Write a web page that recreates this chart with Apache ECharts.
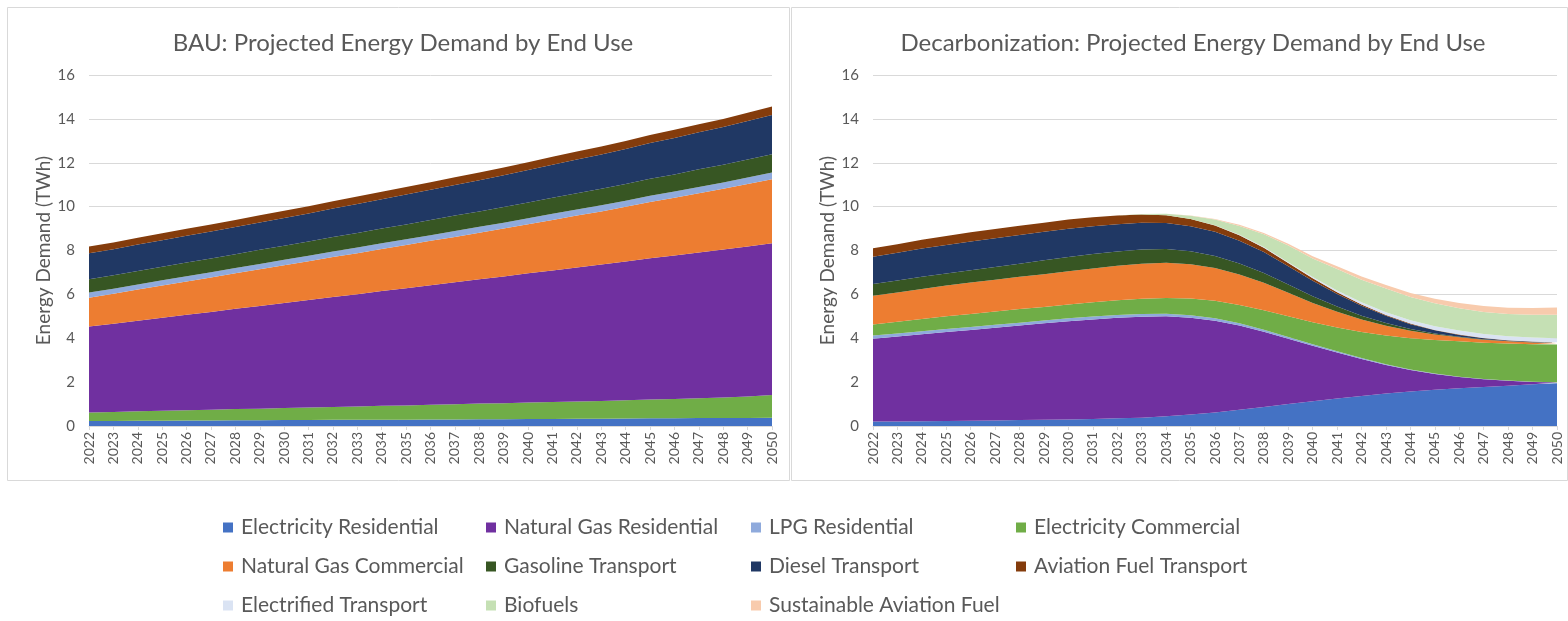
<!DOCTYPE html>
<html>
<head>
<meta charset="utf-8">
<title>Projected Energy Demand by End Use</title>
<script src="https://cdn.jsdelivr.net/npm/echarts@6/dist/echarts.min.js"></script>
<style>
  html, body { margin: 0; padding: 0; background: #ffffff; }
  #chart { width: 1568px; height: 621px; }
</style>
</head>
<body>
<div id="chart"></div>
<script>
// ---- Data (TWh) ----
const years = ['2022','2023','2024','2025','2026','2027','2028','2029','2030','2031',
  '2032','2033','2034','2035','2036','2037','2038','2039','2040','2041',
  '2042','2043','2044','2045','2046','2047','2048','2049','2050'];

const yTicks = [0, 2, 4, 6, 8, 10, 12, 14, 16];

// Business as usual
const bauElecRes   = [0.23,0.23,0.24,0.24,0.25,0.25,0.26,0.26,0.27,0.27,0.28,0.28,0.29,0.29,0.30,0.30,0.31,0.31,0.32,0.32,0.33,0.33,0.34,0.35,0.35,0.36,0.36,0.37,0.38];
const bauElecCom   = [0.39,0.41,0.43,0.45,0.47,0.49,0.51,0.53,0.55,0.57,0.59,0.61,0.63,0.65,0.67,0.69,0.71,0.73,0.75,0.77,0.79,0.81,0.83,0.86,0.88,0.91,0.94,0.98,1.03];
const bauNgRes     = [3.91,4.02,4.13,4.24,4.35,4.46,4.57,4.68,4.79,4.90,5.01,5.12,5.23,5.34,5.45,5.56,5.67,5.78,5.89,6.00,6.11,6.22,6.33,6.44,6.54,6.64,6.74,6.83,6.92];
const bauNgCom     = [1.32,1.37,1.42,1.47,1.52,1.57,1.62,1.67,1.72,1.77,1.82,1.87,1.92,1.97,2.02,2.07,2.12,2.18,2.24,2.30,2.36,2.42,2.49,2.56,2.63,2.70,2.77,2.85,2.92];
const bauLpg       = [0.23,0.23,0.23,0.24,0.24,0.24,0.24,0.25,0.25,0.25,0.25,0.26,0.26,0.26,0.26,0.27,0.27,0.27,0.27,0.28,0.28,0.28,0.28,0.29,0.29,0.29,0.29,0.30,0.30];
const bauGasoline  = [0.61,0.61,0.62,0.62,0.62,0.63,0.63,0.64,0.64,0.65,0.66,0.66,0.67,0.68,0.69,0.70,0.70,0.71,0.72,0.73,0.74,0.75,0.76,0.77,0.78,0.80,0.81,0.82,0.84];
const bauDiesel    = [1.18,1.19,1.20,1.21,1.22,1.23,1.24,1.25,1.26,1.28,1.30,1.32,1.34,1.36,1.38,1.40,1.42,1.45,1.48,1.51,1.54,1.57,1.60,1.63,1.66,1.69,1.72,1.75,1.79];
const bauAviation  = [0.31,0.31,0.31,0.32,0.32,0.32,0.32,0.33,0.33,0.33,0.33,0.34,0.34,0.34,0.34,0.35,0.35,0.35,0.35,0.36,0.36,0.36,0.36,0.37,0.37,0.37,0.37,0.38,0.38];

// Decarbonization
const decElecRes   = [0.20,0.21,0.22,0.23,0.24,0.25,0.27,0.28,0.30,0.32,0.35,0.38,0.44,0.52,0.62,0.74,0.87,1.00,1.13,1.25,1.37,1.48,1.57,1.65,1.72,1.78,1.84,1.90,1.95];
const decNgRes     = [3.78,3.87,3.96,4.05,4.14,4.23,4.31,4.40,4.48,4.54,4.58,4.60,4.56,4.41,4.18,3.84,3.43,2.98,2.53,2.10,1.68,1.30,0.98,0.72,0.51,0.35,0.22,0.11,0.03];
const decLpg       = [0.14,0.14,0.14,0.14,0.13,0.13,0.13,0.13,0.13,0.13,0.13,0.13,0.12,0.12,0.11,0.10,0.09,0.08,0.07,0.06,0.05,0.04,0.03,0.02,0.02,0.01,0.01,0.01,0.01];
const decElecCom   = [0.51,0.53,0.56,0.58,0.60,0.61,0.62,0.62,0.63,0.65,0.67,0.69,0.72,0.76,0.80,0.84,0.89,0.94,1.00,1.08,1.18,1.30,1.42,1.53,1.61,1.66,1.69,1.71,1.72];
const decNgCom     = [1.31,1.34,1.37,1.40,1.43,1.45,1.47,1.49,1.51,1.54,1.57,1.60,1.60,1.56,1.49,1.39,1.25,1.07,0.88,0.72,0.58,0.45,0.34,0.25,0.18,0.13,0.10,0.08,0.07];
const decGasoline  = [0.53,0.54,0.55,0.55,0.56,0.58,0.60,0.63,0.65,0.66,0.66,0.65,0.63,0.60,0.55,0.50,0.45,0.38,0.31,0.24,0.17,0.12,0.08,0.05,0.03,0.02,0.01,0.01,0.01];
const decDiesel    = [1.25,1.27,1.29,1.30,1.31,1.31,1.31,1.30,1.29,1.27,1.24,1.21,1.18,1.14,1.10,1.04,0.95,0.83,0.70,0.57,0.45,0.33,0.22,0.14,0.08,0.05,0.03,0.02,0.02];
const decAviation  = [0.38,0.39,0.40,0.41,0.42,0.42,0.42,0.42,0.42,0.41,0.40,0.38,0.36,0.33,0.29,0.25,0.20,0.15,0.11,0.08,0.06,0.04,0.03,0.02,0.02,0.01,0.01,0.01,0.01];
const decElecTrans = [0,0,0,0,0,0,0,0,0,0,0,0,0,0,0.01,0.02,0.03,0.04,0.06,0.08,0.10,0.13,0.15,0.17,0.18,0.18,0.18,0.18,0.18];
const decBiofuels  = [0,0,0,0,0,0,0,0,0,0,0,0.02,0.06,0.14,0.26,0.40,0.58,0.76,0.85,0.98,1.03,1.08,1.06,1.04,1.02,1.01,1.01,1.04,1.07];
const decSaf       = [0,0,0,0,0,0,0,0,0,0,0,0,0.01,0.02,0.03,0.05,0.06,0.08,0.10,0.12,0.14,0.16,0.18,0.21,0.24,0.27,0.29,0.31,0.33];

// ---- Legend entries and colours ----
const seriesNames = [
  'Electricity Residential', 'Natural Gas Residential', 'LPG Residential', 'Electricity Commercial',
  'Natural Gas Commercial', 'Gasoline Transport', 'Diesel Transport', 'Aviation Fuel Transport',
  'Electrified Transport', 'Biofuels', 'Sustainable Aviation Fuel'
];
const seriesColors = {
  'Electricity Residential': '#4472C4',
  'Natural Gas Residential': '#7030A0',
  'LPG Residential': '#8FAADC',
  'Electricity Commercial': '#70AD47',
  'Natural Gas Commercial': '#ED7D31',
  'Gasoline Transport': '#375623',
  'Diesel Transport': '#203864',
  'Aviation Fuel Transport': '#843C0C',
  'Electrified Transport': '#DAE3F3',
  'Biofuels': '#C5E0B4',
  'Sustainable Aviation Fuel': '#F8CBAD'
};

// Stacking order, bottom to top, for each panel
const bauStack = [
  ['Electricity Residential', bauElecRes],
  ['Electricity Commercial', bauElecCom],
  ['Natural Gas Residential', bauNgRes],
  ['Natural Gas Commercial', bauNgCom],
  ['LPG Residential', bauLpg],
  ['Gasoline Transport', bauGasoline],
  ['Diesel Transport', bauDiesel],
  ['Aviation Fuel Transport', bauAviation]
];
const decStack = [
  ['Electricity Residential', decElecRes],
  ['Natural Gas Residential', decNgRes],
  ['LPG Residential', decLpg],
  ['Electricity Commercial', decElecCom],
  ['Natural Gas Commercial', decNgCom],
  ['Gasoline Transport', decGasoline],
  ['Diesel Transport', decDiesel],
  ['Aviation Fuel Transport', decAviation],
  ['Electrified Transport', decElecTrans],
  ['Biofuels', decBiofuels],
  ['Sustainable Aviation Fuel', decSaf]
];

const FONT = 'Lato, "Open Sans", "DejaVu Sans", sans-serif';
const TEXT = '#595959';
const GRID_LINE = '#D9D9D9';

function areaSeries(pair, idx, stackId) {
  const name = pair[0];
  return {
    name: name,
    type: 'line',
    xAxisIndex: idx,
    yAxisIndex: idx,
    stack: stackId,
    data: pair[1],
    symbol: 'none',
    smooth: false,
    lineStyle: { width: 0 },
    areaStyle: { color: seriesColors[name], opacity: 1 },
    itemStyle: { color: seriesColors[name] },
    emphasis: { disabled: true }
  };
}

function xAxisFor(idx) {
  return {
    type: 'category',
    gridIndex: idx,
    data: years,
    boundaryGap: false,
    axisLine: { show: true, lineStyle: { color: GRID_LINE, width: 1 } },
    axisTick: { show: true, alignWithLabel: true, length: 4, lineStyle: { color: GRID_LINE } },
    axisLabel: { rotate: 90, interval: 0, color: TEXT, fontSize: 14, fontFamily: FONT, margin: 6 }
  };
}

function yAxisFor(idx) {
  return {
    type: 'value',
    gridIndex: idx,
    min: yTicks[0],
    max: yTicks[yTicks.length - 1],
    interval: 2,
    name: 'Energy Demand (TWh)',
    nameLocation: 'middle',
    nameRotate: 90,
    nameGap: 36,
    nameTextStyle: { color: TEXT, fontSize: 19, fontFamily: FONT },
    axisLine: { show: false },
    axisTick: { show: false },
    axisLabel: { color: TEXT, fontSize: 15, fontFamily: FONT, margin: 14 },
    splitLine: { show: true, lineStyle: { color: GRID_LINE, width: 1 } }
  };
}

// Legend: four fixed columns, three rows
const legendCols = [223, 486, 751, 1016];
const legendRows = [517, 556, 595];
const legends = seriesNames.map((name, i) => ({
  data: [name],
  left: legendCols[i % 4],
  top: legendRows[Math.floor(i / 4)],
  orient: 'horizontal',
  icon: 'rect',
  itemWidth: 10,
  itemHeight: 10,
  itemGap: 0,
  padding: 0,
  selectedMode: true,
  textStyle: { color: TEXT, fontSize: 21, fontFamily: FONT, padding: [0, 0, 0, 3] }
}));

const chart = echarts.init(document.getElementById('chart'), null, { renderer: 'canvas' });

chart.setOption({
  animation: false,
  backgroundColor: '#ffffff',
  color: seriesNames.map(n => seriesColors[n]),
  graphic: [
    { type: 'rect', silent: true, z: -10,
      shape: { x: 7.5, y: 7.5, width: 782, height: 473 },
      style: { fill: '#ffffff', stroke: GRID_LINE, lineWidth: 1 } },
    { type: 'rect', silent: true, z: -10,
      shape: { x: 791.5, y: 7.5, width: 776, height: 473 },
      style: { fill: '#ffffff', stroke: GRID_LINE, lineWidth: 1 } }
  ],
  title: [
    { text: 'BAU: Projected Energy Demand by End Use', left: 398, top: 26, textAlign: 'center',
      textStyle: { color: TEXT, fontSize: 24, fontWeight: 'normal', fontFamily: FONT } },
    { text: 'Decarbonization: Projected Energy Demand by End Use', left: 1188, top: 26, textAlign: 'center',
      textStyle: { color: TEXT, fontSize: 24, fontWeight: 'normal', fontFamily: FONT } }
  ],
  legend: legends,
  grid: [
    { left: 89, right: 796, top: 75, bottom: 195, containLabel: false },
    { left: 873, right: 11, top: 75, bottom: 195, containLabel: false }
  ],
  xAxis: [xAxisFor(0), xAxisFor(1)],
  yAxis: [yAxisFor(0), yAxisFor(1)],
  tooltip: { show: false },
  series: [
    ...bauStack.map(p => areaSeries(p, 0, 'bau')),
    ...decStack.map(p => areaSeries(p, 1, 'dec'))
  ]
});
</script>
</body>
</html>
